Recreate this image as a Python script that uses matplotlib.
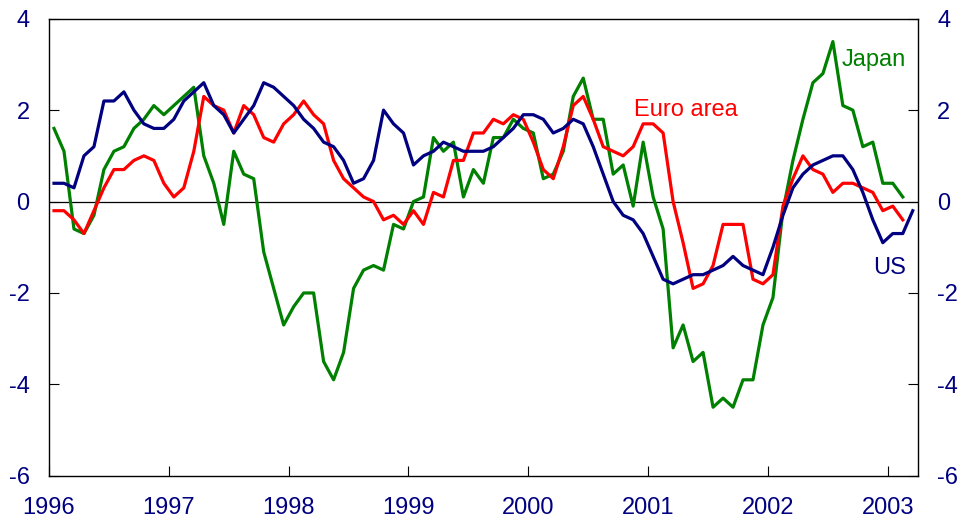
import numpy as np
import matplotlib
matplotlib.use("Agg")
import matplotlib.pyplot as plt

# Monthly values, Jan 1996 onwards
us = [0.4, 0.4, 0.3, 1.0, 1.2, 2.2, 2.2, 2.4, 2.0, 1.7, 1.6, 1.6,
      1.8, 2.2, 2.4, 2.6, 2.1, 1.9, 1.5, 1.8, 2.1, 2.6, 2.5, 2.3,
      2.1, 1.8, 1.6, 1.3, 1.2, 0.9, 0.4, 0.5, 0.9, 2.0, 1.7, 1.5,
      0.8, 1.0, 1.1, 1.3, 1.2, 1.1, 1.1, 1.1, 1.2, 1.4, 1.6, 1.9,
      1.9, 1.8, 1.5, 1.6, 1.8, 1.7, 1.2, 0.6, 0.0, -0.3, -0.4, -0.7,
      -1.2, -1.7, -1.8, -1.7, -1.6, -1.6, -1.5, -1.4, -1.2, -1.4, -1.5, -1.6,
      -1.0, -0.3, 0.3, 0.6, 0.8, 0.9, 1.0, 1.0, 0.7, 0.2, -0.4, -0.9,
      -0.7, -0.7, -0.2]

euro = [-0.2, -0.2, -0.4, -0.7, -0.2, 0.3, 0.7, 0.7, 0.9, 1.0, 0.9, 0.4,
        0.1, 0.3, 1.1, 2.3, 2.1, 2.0, 1.5, 2.1, 1.9, 1.4, 1.3, 1.7,
        1.9, 2.2, 1.9, 1.7, 0.9, 0.5, 0.3, 0.1, 0.0, -0.4, -0.3, -0.5,
        -0.2, -0.5, 0.2, 0.1, 0.9, 0.9, 1.5, 1.5, 1.8, 1.7, 1.9, 1.8,
        1.3, 0.7, 0.5, 1.2, 2.1, 2.3, 1.8, 1.2, 1.1, 1.0, 1.2, 1.7,
        1.7, 1.5, 0.0, -0.9, -1.9, -1.8, -1.4, -0.5, -0.5, -0.5, -1.7, -1.8,
        -1.6, -0.1, 0.5, 1.0, 0.7, 0.6, 0.2, 0.4, 0.4, 0.3, 0.2, -0.2,
        -0.1, -0.4]

japan = [1.6, 1.1, -0.6, -0.7, -0.3, 0.7, 1.1, 1.2, 1.6, 1.8, 2.1, 1.9,
         2.1, 2.3, 2.5, 1.0, 0.4, -0.5, 1.1, 0.6, 0.5, -1.1, -1.9, -2.7,
         -2.3, -2.0, -2.0, -3.5, -3.9, -3.3, -1.9, -1.5, -1.4, -1.5, -0.5, -0.6,
         0.0, 0.1, 1.4, 1.1, 1.3, 0.1, 0.7, 0.4, 1.4, 1.4, 1.8, 1.6,
         1.5, 0.5, 0.6, 1.1, 2.3, 2.7, 1.8, 1.8, 0.6, 0.8, -0.1, 1.3,
         0.1, -0.6, -3.2, -2.7, -3.5, -3.3, -4.5, -4.3, -4.5, -3.9, -3.9, -2.7,
         -2.1, -0.2, 0.9, 1.8, 2.6, 2.8, 3.5, 2.1, 2.0, 1.2, 1.3, 0.4,
         0.4, 0.1]

years = list(range(1996, 2004))
yticks = [-6, -4, -2, 0, 2, 4]

navy = "#000080"

plt.rcParams["font.family"] = ["Liberation Sans", "DejaVu Sans"]
plt.rcParams["axes.unicode_minus"] = False

def month_x(vals):
    return 1996 + (np.arange(len(vals)) + 0.5) / 12

fig = plt.figure(figsize=(9.61, 5.20), dpi=100)
ax = fig.add_axes([0.051, 0.085, 0.904, 0.879])

ax.axhline(0, color="black", lw=0.9, zorder=1)
ax.plot(month_x(japan), japan, color="#008000", lw=2.3, zorder=2)
ax.plot(month_x(euro), euro, color="#ff0000", lw=2.3, zorder=3)
ax.plot(month_x(us), us, color=navy, lw=2.3, zorder=4)

ax.set_xlim(1996, 2003.25)
ax.set_ylim(-6, 4)
ax.set_xticks(years)
ax.set_xticklabels([str(y) for y in years])
ax.set_yticks(yticks)

ax.tick_params(axis="both", direction="in", length=7, width=0.8,
               labelsize=17, labelcolor=navy)
ax.tick_params(axis="x", pad=15)
ax.tick_params(axis="y", pad=14, right=True, labelright=True)
for s in ax.spines.values():
    s.set_linewidth(1.0)

ax.text(2003.15, 3.1, "Japan", color="#008000", fontsize=17, ha="right", va="center")
ax.text(2000.88, 2.0, "Euro area", color="#ff0000", fontsize=17, ha="left", va="center")
ax.text(2003.15, -1.45, "US", color=navy, fontsize=17, ha="right", va="center")

fig.savefig("out.png", dpi=100)
